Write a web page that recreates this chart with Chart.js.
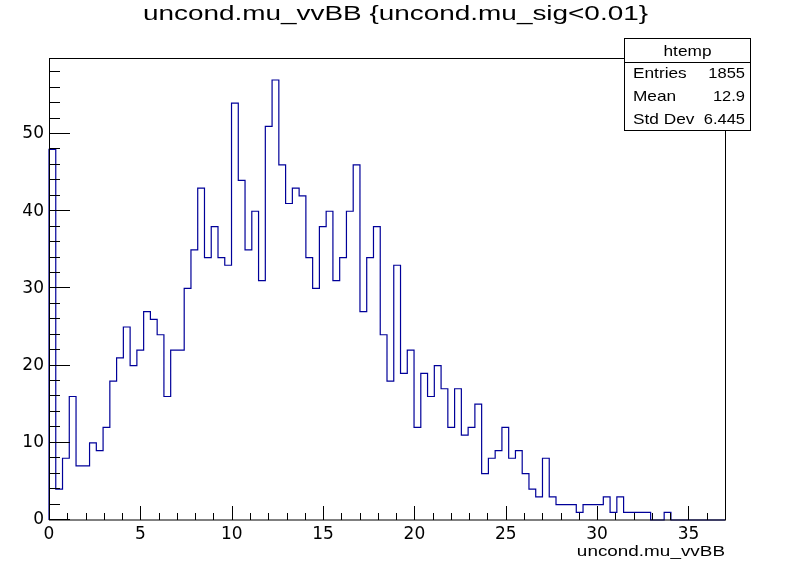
<!DOCTYPE html>
<html>
<head>
<meta charset="utf-8">
<script src="https://cdn.jsdelivr.net/npm/chart.js@4.4.1/dist/chart.umd.min.js"></script>
<style>
html, body { margin: 0; padding: 0; background: #fff; }
canvas { display: block; }
</style>
</head>
<body>
<canvas id="c" width="794" height="562"></canvas>
<script>
// histogram content: 100 bins between xRange[0] and xRange[1]
const histTitle = 'uncond.mu_vvBB {uncond.mu_sig<0.01}';
const xLabel = 'uncond.mu_vvBB';
const xRange = [0, 37];
const yMax = 59.85;
const counts = [
    48, 4, 8, 16, 7, 7, 10, 9, 12, 18,
    21, 25, 20, 22, 27, 26, 24, 16, 22, 22,
    30, 35, 43, 34, 38, 34, 33, 54, 44, 35,
    40, 31, 51, 57, 46, 41, 43, 42, 34, 30,
    38, 40, 31, 34, 40, 46, 27, 34, 38, 24,
    18, 33, 19, 22, 12, 19, 16, 20, 17, 12,
    17, 11, 12, 15, 6, 8, 9, 12, 8, 9,
    6, 4, 3, 8, 3, 2, 2, 2, 1, 2,
    2, 2, 3, 1, 3, 1, 1, 1, 1, 0,
    0, 1, 0, 0, 0, 0, 0, 0, 0, 0
];
const xMajor = [0, 5, 10, 15, 20, 25, 30, 35];
const yMajor = [0, 10, 20, 30, 40, 50];
const statsName = 'htemp';
const statsLabels = ['Entries', 'Mean', 'Std Dev'];
const statsValues = ['1855', '12.9', '6.445'];

const FONT = '"Liberation Sans", Arial, Helvetica, sans-serif';
const NUM_FONT = '"DejaVu Sans", "Liberation Sans", sans-serif';
const LINE = '#000099';

function binPoints() {
    let w = (xRange[1] - xRange[0]) / counts.length;
    let pts = [{x: xRange[0], y: 0}];
    counts.forEach((c, i) => pts.push({x: xRange[0] + i * w, y: c}));
    pts.push({x: xRange[1], y: 0});
    return pts;
}

// text in this style is a bit wider than the plain font
function wideText(ctx, text, x, y, size, sx, align) {
    ctx.save();
    ctx.font = size + 'px ' + FONT;
    ctx.fillStyle = '#000';
    ctx.textBaseline = 'alphabetic';
    ctx.textAlign = align;
    ctx.translate(x, y);
    ctx.scale(sx, 1);
    ctx.fillText(text, 0, 0);
    ctx.restore();
}

const frameAndStats = {
    id: 'frameAndStats',
    afterDraw(chart) {
        let ctx = chart.ctx;
        let a = chart.chartArea;
        let xs = chart.scales.x, ys = chart.scales.y;
        ctx.save();
        ctx.strokeStyle = '#000';
        ctx.lineWidth = 1;
        ctx.strokeRect(a.left + 0.5, a.top + 0.5, a.right - a.left, a.bottom - a.top - 0.5);

        // ticks point into the frame
        ctx.beginPath();
        for (let v = Math.ceil(xRange[0]); v <= xRange[1]; v++) {
            let px = Math.round(xs.getPixelForValue(v)) + 0.5;
            let len = xMajor.includes(v) ? 14 : 7;
            ctx.moveTo(px, a.bottom);
            ctx.lineTo(px, a.bottom - len);
        }
        for (let v = 0; v <= yMax; v += 2) {
            let py = Math.round(ys.getPixelForValue(v)) - 0.5;
            let len = yMajor.includes(v) ? 21 : 11;
            ctx.moveTo(a.left, py);
            ctx.lineTo(a.left + len, py);
        }
        ctx.stroke();

        // title
        ctx.font = '20px ' + FONT;
        let tw = ctx.measureText(histTitle).width;
        wideText(ctx, histTitle, 395.5, 20, 20, 505 / tw, 'center');

        // axis title
        wideText(ctx, xLabel, a.right, 556, 14, 1.35, 'right');

        // stats box
        let bx = 624.5, by = 38.5, bw = 126, bh = 92;
        ctx.fillStyle = '#fff';
        ctx.fillRect(bx, by, bw, bh);
        ctx.strokeRect(bx, by, bw, bh);
        ctx.beginPath();
        ctx.moveTo(bx, 62.5);
        ctx.lineTo(bx + bw, 62.5);
        ctx.stroke();
        wideText(ctx, statsName, bx + bw / 2, 56, 15, 1.15, 'center');
        statsLabels.forEach((lab, i) => {
            let y = 78 + i * 23;
            wideText(ctx, lab, 633, y, 15, 1.15, 'left');
            wideText(ctx, statsValues[i], 745, y, 15, 1.1, 'right');
        });
        ctx.restore();
    }
};

new Chart(document.getElementById('c'), {
    type: 'line',
    data: {
        datasets: [{
            data: binPoints(),
            stepped: 'before',
            borderColor: LINE,
            borderWidth: 1.2,
            pointRadius: 0,
            fill: false,
            clip: false
        }]
    },
    options: {
        responsive: false,
        animation: false,
        devicePixelRatio: 1,
        layout: { padding: { top: 58, right: 69, left: 0, bottom: 0 } },
        plugins: { legend: { display: false }, tooltip: { enabled: false }, title: { display: false } },
        scales: {
            x: {
                type: 'linear',
                min: xRange[0],
                max: xRange[1],
                afterBuildTicks: s => { s.ticks = xMajor.map(v => ({value: v})); },
                afterFit: s => { s.height = 42; },
                grid: { display: false, drawTicks: false },
                border: { display: false },
                ticks: { color: '#000', padding: 4, maxRotation: 0, font: { family: NUM_FONT, size: 17 } }
            },
            y: {
                min: 0,
                max: yMax,
                afterBuildTicks: s => { s.ticks = yMajor.map(v => ({value: v})); },
                afterFit: s => { s.width = 49; },
                grid: { display: false, drawTicks: false },
                border: { display: false },
                ticks: { color: '#000', padding: 5, font: { family: NUM_FONT, size: 17 } }
            }
        }
    },
    plugins: [frameAndStats]
});
</script>
</body>
</html>
